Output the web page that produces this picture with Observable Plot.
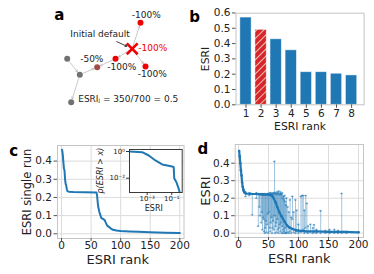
<!DOCTYPE html>
<html><head><meta charset="utf-8">
<script src="https://cdn.jsdelivr.net/npm/d3@7"></script>
<script src="https://cdn.jsdelivr.net/npm/@observablehq/plot@0.6"></script>
<style>
body{margin:0;background:#fff}
#fig{position:relative;width:374px;height:274px;overflow:hidden;background:#fff;font-family:"DejaVu Sans",sans-serif}
</style></head><body>
<svg width="0" height="0" style="position:absolute"><defs>
<pattern id="hatchB" width="5" height="5" patternUnits="userSpaceOnUse" patternTransform="rotate(45)">
<rect width="5" height="5" fill="#d62728"/><line x1="0" y1="0" x2="0" y2="5" stroke="#fff" stroke-width="1.4"/>
</pattern></defs></svg>
<div id="fig"></div>
<script>
// ---------- Panel a: network (layout positions) ----------
const nodeId   = ["g1","g2","g3","h","r1","X","r2","r3"];
const nodeX    = [66.7, 79.3, 70.7, 96.7, 115, 131.7, 140, 145];
const nodeY    = [58.3, 74.3, 101.7, 66.7, 58.3, 48.3, 22.3, 66];
const nodeKind = ["ok","ok","ok","half","lost","default","lost","lost"];
const nodeLoss = ["", "", "ESRIⱼ = 350/700 = 0.5", "-50%", "-100%", "-100%", "-100%", "-100%"];
const edgeFrom = ["g1","g2","g2","r1","X","X","X"];
const edgeTo   = ["g2","g3","h","h","r1","r2","r3"];

// ---------- Panel b ----------
const rankB = [1,2,3,4,5,6,7,8];
const esriB = [0.57,0.49,0.428,0.356,0.213,0.213,0.203,0.192];
const defaultRankB = 2;
const yTicksB = [0,0.1,0.2,0.3,0.4,0.5,0.6];

// ---------- Panel c ----------
const rankC = [1,2,3,4,5,6,7,8,9,10,12,20,40,59,60,61,62,64,66,67,70,73,75,77,80,83,87,93,100,115,130,150,175,200];
const esriC = [0.462,0.44,0.40,0.36,0.35,0.30,0.275,0.265,0.245,0.235,0.232,0.23,0.229,0.227,0.215,0.18,0.15,0.12,0.10,0.088,0.082,0.075,0.06,0.046,0.038,0.03,0.022,0.018,0.015,0.013,0.011,0.009,0.006,0.004];
const xTicksRank = [0,50,100,150,200];
const yTicksC = [0,0.1,0.2,0.3,0.4];

// inset: complementary CDF (log10 of x and of p)
const insetLog10X = [-4.41,-3.41,-2.87,-2.33,-1.78,-1.37,-0.97,-0.84,-0.80,-0.62,-0.43,-0.35];
const insetLog10P = [0,-0.05,-0.30,-0.67,-0.97,-1.05,-1.12,-1.17,-2.0,-2.3,-2.8,-3.07];

// ---------- Panel d ----------
const rankD = [1,2,3,4,5,6,7,8,9,10,12,20,30,40,50,54,57,59,62,64.5,68,72,76,81,85,90,95,100,110,130,150,175,200];
const meanD = [0.47,0.44,0.40,0.36,0.33,0.29,0.265,0.25,0.24,0.232,0.227,0.225,0.224,0.222,0.22,0.217,0.21,0.197,0.175,0.15,0.12,0.095,0.07,0.044,0.032,0.024,0.018,0.015,0.012,0.01,0.008,0.007,0.005];
const errRank = [12,18,23,30,33,35,36,38,39,40,41,42,43,44,45,46,47,48,49,50,51,52,53,54,55,56,57,58,59,60,61,62,63,64,65,66,67,68,69,70,71,72,73,74,75,76,77,78,79,80,82,84,86,88,90,92,95,97,100,104,106,108,110,112,114,116,120,124,126,130,137,145,152,160,166,172,180];
const errLo   = [0.21,0.215,0.105,0.20,0.04,0.15,0.10,0.06,0.12,0.02,0.09,0.08,0.01,0.0,0.03,0.07,0.005,0.05,0.11,0.0,0.12,0.03,0.01,0.06,0.09,0.0,0.03,0.07,0.02,0.10,0.0,0.04,0.06,0.005,0.08,0.02,0.0,0.03,0.05,0.01,0.06,0.0,0.04,0.0,0.02,0.01,0.0,0.03,0.0,0.0,0.005,0.0,0.01,0.0,0.08,0.005,0.0,0.01,0.0,0.005,0.01,0.02,0.0,0.03,0.005,0.0,0.005,0.0,0.005,0.0,0.0,0.0,0.0,0.0,0.0,0.0,0.0];
const errHi   = [0.235,0.23,0.225,0.23,0.225,0.22,0.225,0.22,0.225,0.225,0.22,0.22,0.225,0.225,0.22,0.22,0.22,0.225,0.225,0.22,0.225,0.23,0.22,0.23,0.225,0.22,0.225,0.23,0.23,0.41,0.225,0.23,0.22,0.235,0.225,0.23,0.24,0.22,0.225,0.235,0.225,0.22,0.23,0.2,0.21,0.19,0.215,0.18,0.16,0.2,0.15,0.12,0.19,0.09,0.21,0.12,0.19,0.13,0.05,0.21,0.215,0.215,0.13,0.215,0.17,0.04,0.05,0.03,0.048,0.02,0.128,0.015,0.02,0.02,0.015,0.227,0.01];

// ---------------------------------------------------------
const fig = document.getElementById("fig");
const BLUE = "#1f77b4", TXT = "#222", TICK = "#555", SPINE = "#c4c4c4", GRID = "#dcdcdc";
const FONT = "DejaVu Sans, sans-serif";
const C = {textAnchor:"middle", lineAnchor:"middle"};
function place(svg, left, top) {
  svg.style.position = "absolute";
  svg.style.left = left + "px";
  svg.style.top = top + "px";
  svg.style.background = "transparent";
  svg.style.overflow = "visible";
  svg.style.fontFamily = FONT;
  fig.appendChild(svg);
}

// ---- Panel a ----
const nodes = nodeId.map((id,i)=>({id, x:nodeX[i], y:nodeY[i], kind:nodeKind[i], loss:nodeLoss[i]}));
const byId = Object.fromEntries(nodes.map(n=>[n.id,n]));
const edges = edgeFrom.map((f,i)=>({a:byId[f], b:byId[edgeTo[i]]}));
const kindColor = {ok:"#717171", half:"#a04a4a", lost:"#f00000", default:"#f00000"};
const lab = id => nodes.filter(n=>n.id===id);
const pa = Plot.plot({
  width:187, height:137, margin:0,
  x:{domain:[0,187], axis:null}, y:{domain:[137,0], axis:null},
  marks:[
    Plot.arrow(edges, {x1:d=>d.a.x, y1:d=>d.a.y, x2:d=>d.b.x, y2:d=>d.b.y, stroke:"#bdbdbd", strokeWidth:0.8, headLength:4, insetStart:3.5, insetEnd:3.5}),
    Plot.dot(nodes.filter(n=>n.kind!=="default"), {x:"x", y:"y", r:3, fill:d=>kindColor[d.kind], stroke:"none"}),
    Plot.dot(nodes.filter(n=>n.kind==="default"), {x:"x", y:"y", r:5, symbol:"times", stroke:"#f00000", strokeWidth:2.6}),
    Plot.arrow(lab("X"), {x1:d=>d.x-32.2, y1:d=>d.y-15, x2:"x", y2:"y", stroke:"#111", strokeWidth:0.8, headLength:3.5, insetStart:18.5, insetEnd:6}),
    Plot.text(lab("X"), {x:"x", y:"y", text:()=>"Initial default", dx:-32.2, dy:-15, fontSize:9, fill:TXT, ...C}),
    Plot.text(lab("X"), {x:"x", y:"y", text:"loss", dx:6, dy:-0.6, fontSize:9, fill:"#f00000", lineAnchor:"middle", textAnchor:"start"}),
    Plot.text(lab("r2"), {x:"x", y:"y", text:"loss", dx:5.8, dy:-7.3, fontSize:9, fill:TXT, ...C}),
    Plot.text(lab("r3"), {x:"x", y:"y", text:"loss", dx:6.7, dy:7.3, fontSize:9, fill:TXT, ...C}),
    Plot.text(lab("r1"), {x:"x", y:"y", text:"loss", dx:6.3, dy:8.4, fontSize:9, fill:TXT, ...C}),
    Plot.text(lab("h"), {x:"x", y:"y", text:"loss", dx:-5.4, dy:-8.4, fontSize:9, fill:TXT, ...C}),
    Plot.text(lab("g3"), {x:"x", y:"y", text:"loss", dx:7, dy:-3.4, fontSize:9, fill:TXT, lineAnchor:"middle", textAnchor:"start"}),
    Plot.text(["a"], {text:d=>d, frameAnchor:"top-left", dx:58.7, dy:15, fontSize:15, fontWeight:"bold", fill:"#000", ...C})
  ]
});
place(pa, 0, 0);

// ---- Panel b ----
const barsB = rankB.map((r,i)=>({rank:r, esri:esriB[i]}));
const pb = Plot.plot({
  width:187, height:137, marginLeft:48.5, marginRight:10.4, marginTop:12.7, marginBottom:32.7,
  x:{domain:[0.337,8.83]}, y:{domain:[0,0.5985]},
  marks:[
    Plot.rectY(barsB.filter(d=>d.rank!==defaultRankB), {x1:d=>d.rank-0.375, x2:d=>d.rank+0.375, y1:0, y2:"esri", fill:BLUE, stroke:"#fff", strokeWidth:0.8, strokeOpacity:0.6}),
    Plot.rectY(barsB.filter(d=>d.rank===defaultRankB), {x1:d=>d.rank-0.375, x2:d=>d.rank+0.375, y1:0, y2:"esri", fill:"url(#hatchB)", stroke:"#fff", strokeWidth:0.8, strokeOpacity:0.6}),
    Plot.frame({stroke:SPINE}),
    Plot.axisX({ticks:rankB, tickFormat:d=>String(d), tickSize:3.5, tickPadding:1.5, fontSize:10.5, stroke:TICK, fill:TXT, label:null}),
    Plot.axisY({ticks:yTicksB, tickFormat:d=>d.toFixed(1), tickSize:3.5, tickPadding:2, fontSize:10.5, stroke:TICK, fill:TXT, label:null}),
    Plot.text(["ESRI rank"], {text:d=>d, frameAnchor:"bottom", dy:21.7, fontSize:10.8, fill:TXT, ...C}),
    Plot.text(["ESRI"], {text:d=>d, frameAnchor:"left", dx:-30.5, rotate:-90, fontSize:10.8, fill:TXT, ...C}),
    Plot.text(["b"], {text:d=>d, frameAnchor:"top-left", dx:-41.5, dy:4.3, fontSize:15, fontWeight:"bold", fill:"#000", ...C})
  ]
});
place(pb, 187, 0);

// ---- Panel c ----
const seriesC = rankC.map((r,i)=>({rank:r, esri:esriC[i]}));
const pc = Plot.plot({
  width:187, height:137, marginLeft:57, marginRight:3.5, marginTop:8, marginBottom:36,
  x:{domain:[-6.8,207.1]}, y:{domain:[-0.026,0.486]},
  marks:[
    Plot.gridX({ticks:xTicksRank, stroke:GRID, strokeOpacity:1, strokeWidth:1}),
    Plot.gridY({ticks:yTicksC, stroke:GRID, strokeOpacity:1, strokeWidth:1}),
    Plot.frame({stroke:SPINE}),
    Plot.line(seriesC, {x:"rank", y:"esri", stroke:BLUE, strokeWidth:2}),
    Plot.axisX({ticks:xTicksRank, tickSize:3, tickPadding:0, fontSize:10.5, stroke:TICK, fill:TXT, label:null}),
    Plot.axisY({ticks:yTicksC, tickFormat:d=>d.toFixed(1), tickSize:3.5, tickPadding:2, fontSize:10.5, stroke:TICK, fill:TXT, label:null}),
    Plot.text(["ESRI rank"], {text:d=>d, frameAnchor:"bottom", dy:21.7, dx:-3, fontSize:13, fill:TXT, ...C}),
    Plot.text(["ESRI single run"], {text:d=>d, frameAnchor:"left", dx:-30.5, rotate:-90, fontSize:11.5, fill:TXT, ...C}),
    Plot.text(["c"], {text:d=>d, frameAnchor:"top-left", dx:-43.7, dy:6, fontSize:15, fontWeight:"bold", fill:"#000", ...C})
  ]
});
place(pc, 0, 137);

// ---- Inset ----
const seriesI = insetLog10X.map((lx,i)=>({x:10**lx, p:10**insetLog10P[i]}));
const supFmt = {"1":"10⁰","0.1":"10⁻¹","0.01":"10⁻²","0.001":"10⁻³"};
const pi = Plot.plot({
  width:92, height:75, marginLeft:34, marginRight:5.3, marginTop:9, marginBottom:23,
  x:{type:"log", domain:[10**-4.44, 10**-0.15]}, y:{type:"log", domain:[10**-3.07, 10**0.15]},
  marks:[
    Plot.frame({fill:"#fff", stroke:"none"}),
    Plot.line(seriesI, {x:"x", y:"p", stroke:BLUE, strokeWidth:2, clip:true}),
    Plot.frame({stroke:"#3a3a3a", strokeWidth:1}),
    Plot.axisX({ticks:[0.001,0.1], tickFormat:d=>supFmt[String(d)], tickSize:3, tickPadding:1, fontSize:7, stroke:"#333", fill:TXT, label:null}),
    Plot.axisY({ticks:[1,0.01], tickFormat:d=>supFmt[String(d)], tickSize:3, tickPadding:1.5, fontSize:7, stroke:"#333", fill:TXT, label:null}),
    Plot.text(["ESRI"], {text:d=>d, frameAnchor:"bottom", dy:16, dx:-2, fontSize:8, fill:TXT, ...C}),
    Plot.text(["p(ESRI > x)"], {text:d=>d, frameAnchor:"left", dx:-29, dy:-0.5, rotate:-90, fontSize:8, fontStyle:"italic", fill:TXT, ...C})
  ]
});
place(pi, 95, 140);

// ---- Panel d ----
const seriesD = rankD.map((r,i)=>({rank:r, esri:meanD[i]}));
const errD = errRank.map((r,i)=>({rank:r, lo:errLo[i], hi:errHi[i]}));
const ERR = "rgba(31,119,180,0.42)";
const pd = Plot.plot({
  width:187, height:137, marginLeft:47.7, marginRight:11, marginTop:7, marginBottom:37,
  x:{domain:[-5.5,208.3]}, y:{domain:[-0.0246,0.507]},
  marks:[
    Plot.gridX({ticks:xTicksRank, stroke:GRID, strokeOpacity:1, strokeWidth:1}),
    Plot.gridY({ticks:yTicksC, stroke:GRID, strokeOpacity:1, strokeWidth:1}),
    Plot.frame({stroke:SPINE}),
    Plot.ruleX(errD, {x:"rank", y1:"lo", y2:"hi", stroke:ERR, strokeWidth:1}),
    Plot.ruleY(errD, {y:"hi", x1:d=>d.rank-1.8, x2:d=>d.rank+1.8, stroke:ERR, strokeWidth:1}),
    Plot.ruleY(errD, {y:"lo", x1:d=>d.rank-1.8, x2:d=>d.rank+1.8, stroke:ERR, strokeWidth:1}),
    Plot.dot(errD, {x:"rank", y:"hi", r:1.1, fill:ERR, stroke:"none"}),
    Plot.dot(errD, {x:"rank", y:"lo", r:1.1, fill:ERR, stroke:"none"}),
    Plot.line(seriesD, {x:"rank", y:"esri", stroke:BLUE, strokeWidth:2.2}),
    Plot.dot(seriesD, {x:"rank", y:"esri", r:1.3, fill:BLUE, stroke:"none"}),
    Plot.axisX({ticks:xTicksRank, tickSize:3, tickPadding:0, fontSize:10.5, stroke:TICK, fill:TXT, label:null}),
    Plot.axisY({ticks:yTicksC, tickFormat:d=>d.toFixed(1), tickSize:3.5, tickPadding:2, fontSize:10.5, stroke:TICK, fill:TXT, label:null}),
    Plot.text(["ESRI rank"], {text:d=>d, frameAnchor:"bottom", dy:21.7, fontSize:13, fill:TXT, ...C}),
    Plot.text(["ESRI"], {text:d=>d, frameAnchor:"left", dx:-29.7, rotate:-90, fontSize:13, fill:TXT, ...C}),
    Plot.text(["d"], {text:d=>d, frameAnchor:"top-left", dx:-32.4, dy:5, fontSize:15, fontWeight:"bold", fill:"#000", ...C})
  ]
});
place(pd, 187, 137);
</script></body></html>
